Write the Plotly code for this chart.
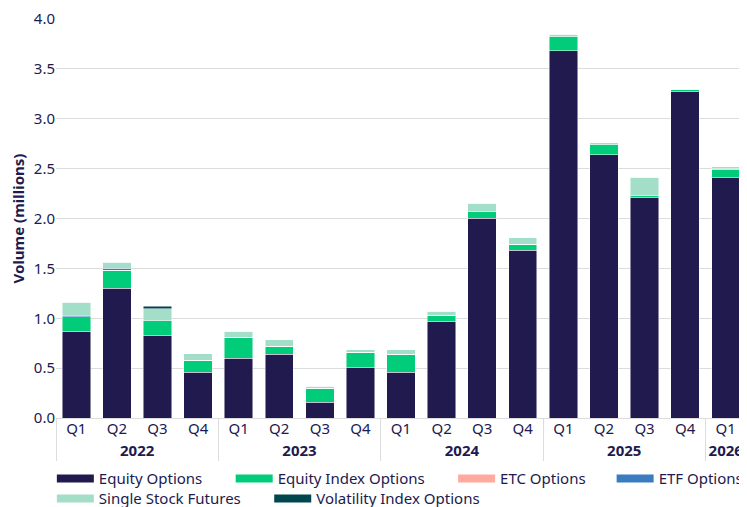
import plotly.graph_objects as go

years = ["2022"] * 4 + ["2023"] * 4 + ["2024"] * 4 + ["2025"] * 4 + ["2026"]
quarters = ["Q1", "Q2", "Q3", "Q4"] * 4 + ["Q1"]

equity_options = [0.87, 1.30, 0.83, 0.46, 0.60, 0.64, 0.16, 0.505, 0.46, 0.97, 2.005, 1.68, 3.68, 2.64, 2.21, 3.27, 2.41]
equity_index_options = [0.145, 0.18, 0.145, 0.12, 0.21, 0.08, 0.14, 0.155, 0.18, 0.06, 0.065, 0.06, 0.14, 0.10, 0.02, 0.02, 0.08]
etc_options = [0, 0, 0, 0, 0, 0, 0, 0, 0, 0, 0, 0, 0, 0, 0, 0, 0.008]
etf_options = [0.015, 0.02, 0, 0, 0, 0, 0, 0, 0, 0, 0, 0, 0, 0, 0, 0, 0]
single_stock_futures = [0.13, 0.06, 0.12, 0.065, 0.06, 0.065, 0.02, 0.025, 0.045, 0.04, 0.085, 0.065, 0.025, 0.02, 0.185, 0.005, 0.02]
volatility_index_options = [0, 0, 0.027, 0, 0, 0, 0, 0, 0, 0, 0, 0, 0, 0, 0, 0, 0]

NB = "\u00a0"
HAIR = "\u200a"
series = [
    ("Equity Options", equity_options, "#211a4f", "legend", NB * 6),
    ("Equity Index Options", equity_index_options, "#00cc7a", "legend", NB * 6),
    ("ETC Options", etc_options, "#ffaa9e", "legend", NB * 5 + HAIR),
    ("ETF Options", etf_options, "#3b7bbf", "legend", ""),
    ("Single Stock Futures", single_stock_futures, "#a3dec8", "legend2", NB * 6),
    ("Volatility Index Options", volatility_index_options, "#00464f", "legend2", ""),
]

x = [["<b>%s</b>" % y for y in years], quarters]
NAVY = "#211a4f"
FONT = "Noto Sans"
FS = 15

fig = go.Figure()
for name, vals, color, lg, pad in series:
    fig.add_trace(go.Bar(
        x=x, y=vals, name=name, showlegend=False,
        marker=dict(color=color, line=dict(color="rgba(255,255,255,0.6)", width=0.8)),
    ))
for name, vals, color, lg, pad in series:
    fig.add_trace(go.Scatter(
        x=[None], y=[None], mode="lines", name=name + pad, legend=lg,
        line=dict(color=color, width=8),
    ))

legend_common = dict(orientation="h", xanchor="left", yanchor="middle", traceorder="normal",
                     font=dict(family=FONT, size=FS, color=NAVY), itemwidth=37,
                     bgcolor="rgba(0,0,0,0)")
fig.update_layout(
    width=745, height=499,
    barmode="stack", bargap=0.3,
    margin=dict(l=48, r=7, t=11, b=89, autoexpand=False),
    paper_bgcolor="white", plot_bgcolor="white",
    font=dict(family=FONT, size=FS, color=NAVY),
    legend=dict(x=-0.006, y=-0.1525, **legend_common),
    legend2=dict(x=-0.006, y=-0.2025, **legend_common),
)
fig.update_xaxes(
    type="multicategory", showgrid=False, ticks="outside", ticklen=4,
    tickcolor="rgba(0,0,0,0)", showdividers=True,
    dividercolor="#dcdcdc", dividerwidth=1, automargin=False,
    tickfont=dict(family=FONT, size=FS, color=NAVY),
)
fig.update_yaxes(
    range=[0, 4.0], dtick=0.5, tickformat=".1f", automargin=False,
    showgrid=True, gridcolor="#dcdcdc", gridwidth=1,
    zeroline=True, zerolinecolor="#dcdcdc", zerolinewidth=1,
    tickfont=dict(family=FONT, size=FS, color=NAVY),
    title=dict(text="<b>Volume (millions)</b>", font=dict(family=FONT, size=FS, color=NAVY), standoff=10),
)

fig.write_html("out.html")
